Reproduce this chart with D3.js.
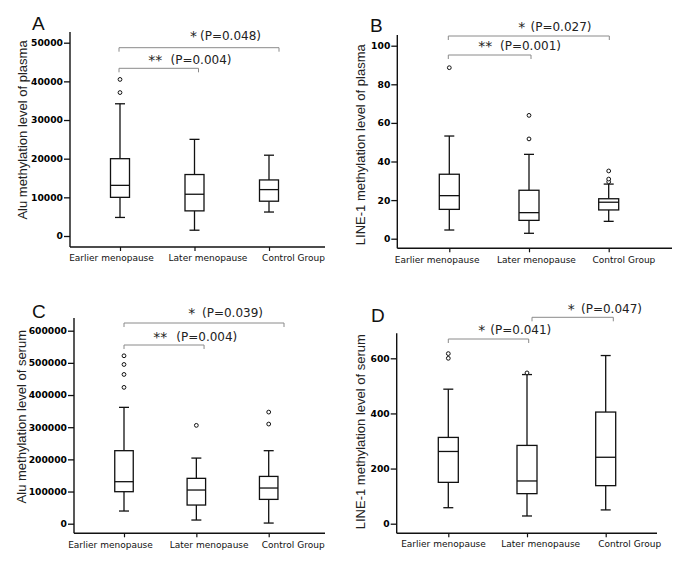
<!DOCTYPE html>
<html>
<head>
<meta charset="utf-8">
<script src="https://cdn.jsdelivr.net/npm/d3@7"></script>
<style>
  html, body { margin: 0; padding: 0; background: #fff; }
  svg { display: block; }
</style>
</head>
<body>
<svg id="chart" width="683" height="577"></svg>
<script>
// ---------------- DATA ----------------
const categories = ["Earlier menopause", "Later menopause", "Control Group"];

// five-number summaries: [lower whisker, Q1, median, Q3, upper whisker]
const aluPlasmaBoxes = [[4800, 10000, 13100, 20000, 34200], [1500, 6500, 10800, 15900, 25000], [6200, 9000, 12000, 14500, 20900]];
const aluPlasmaOutliers = [[37100, 40500], [], []];
const aluPlasmaTicks = [0, 10000, 20000, 30000, 40000, 50000];

const line1PlasmaBoxes = [[4.5, 15.2, 22.3, 33.4, 53.2], [2.8, 9.5, 13.5, 25.1, 43.7], [9.0, 14.9, 18.9, 20.7, 28.3]];
const line1PlasmaOutliers = [[88.6], [51.7, 63.9], [29.5, 30.9, 35.1]];
const line1PlasmaTicks = [0, 20, 40, 60, 80, 100];

const aluSerumBoxes = [[39400, 99500, 130600, 227000, 361700], [11400, 58000, 104700, 141000, 204000], [2000, 75600, 110900, 147000, 227000]];
const aluSerumOutliers = [[423800, 464000, 495000, 522000], [305700], [309800, 347000]];
const aluSerumTicks = [0, 100000, 200000, 300000, 400000, 500000, 600000];

const line1SerumBoxes = [[58, 150, 262, 313, 488], [28, 109, 155, 284, 541], [50, 138, 241, 405, 610]];
const line1SerumOutliers = [[600, 617], [547], []];
const line1SerumTicks = [0, 200, 400, 600];

const panelLetters = ["A", "B", "C", "D"];
const yTitles = ["Alu methylation level of plasma", "LINE-1 methylation level of plasma",
                 "Alu methylation level of serum", "LINE-1 methylation level of serum"];

// significance comparisons: [from category, to category, stars, p-value text]
const aluPlasmaSig = [[0, 2, "*", "(P=0.048)"], [0, 1, "**", "(P=0.004)"]];
const line1PlasmaSig = [[0, 2, "*", "(P=0.027)"], [0, 1, "**", "(P=0.001)"]];
const aluSerumSig = [[0, 2, "*", "(P=0.039)"], [0, 1, "**", "(P=0.004)"]];
const line1SerumSig = [[0, 1, "*", "(P=0.041)"], [1, 2, "*", "(P=0.047)"]];

// ---------------- LAYOUT ----------------
const panels = [
  { boxes: aluPlasmaBoxes, outliers: aluPlasmaOutliers, ticks: aluPlasmaTicks, sig: aluPlasmaSig,
    letter: panelLetters[0], title: yTitles[0], max: 50000,
    yRange: [236, 42.7], axisTop: 32, axisY: 247, axisX: 70, axisEnd: 325, pts: [120, 269],
    labDx: [-9, 13, 24], labY: 261, letterPos: [32, 30], titlePos: [22.7, 130], boxW: 19,
    brackets: [
      { y: 47.7, x0off: -1, x1off: 10, starX: 190, parenX: 200, base: 40.3 },
      { y: 68.3, x0off: -1, x1off: 4, starX: 148.3, parenX: 170.5, base: 64 }
    ] },
  { boxes: line1PlasmaBoxes, outliers: line1PlasmaOutliers, ticks: line1PlasmaTicks, sig: line1PlasmaSig,
    letter: panelLetters[1], title: yTitles[1], max: 100,
    yRange: [238.7, 45.7], axisTop: 35, axisY: 248.3, axisX: 397.3, axisEnd: 672, pts: [449.3, 608.7],
    labDx: [-12.7, 7, 14.7], labY: 263, letterPos: [370, 32], titlePos: [360.7, 144.7], boxW: 20,
    brackets: [
      { y: 36, x0off: -1, x1off: 0.6, starX: 518.3, parenX: 530.5, base: 30.8 },
      { y: 55, x0off: -1, x1off: 2, starX: 478.3, parenX: 500, base: 50.2 }
    ] },
  { boxes: aluSerumBoxes, outliers: aluSerumOutliers, ticks: aluSerumTicks, sig: aluSerumSig,
    letter: panelLetters[2], title: yTitles[2], max: 600000,
    yRange: [523.7, 330.7], axisTop: 318, axisY: 533.3, axisX: 74, axisEnd: 325, pts: [124, 268.7],
    labDx: [-14, 12.3, 24], labY: 548, letterPos: [32, 318], titlePos: [21.7, 416.7], boxW: 18.5,
    brackets: [
      { y: 323, x0off: 0, x1off: 15.3, starX: 188.3, parenX: 202, base: 316.8 },
      { y: 345, x0off: 0, x1off: 7.7, starX: 153.3, parenX: 176.3, base: 340.8 }
    ] },
  { boxes: line1SerumBoxes, outliers: line1SerumOutliers, ticks: line1SerumTicks, sig: line1SerumSig,
    letter: panelLetters[3], title: yTitles[3], max: 600,
    yRange: [523.7, 358.3], axisTop: 333.3, axisY: 533.3, axisX: 396.7, axisEnd: 657, pts: [448.3, 605.7],
    labDx: [-5.3, 13.2, 23.5], labY: 547, letterPos: [371, 322], titlePos: [360.7, 431.7], boxW: 20,
    brackets: [
      { y: 339, x0off: 0, x1off: 1.7, starX: 478.3, parenX: 490.3, base: 333.5 },
      { y: 317.3, x0off: 5, x1off: 7.6, starX: 567.7, parenX: 581, base: 312.5 }
    ] }
];

const svg = d3.select("#chart");
const BLACK = "#111";
const GRAY = "#8a8a8a";

panels.forEach(p => {
  const g = svg.append("g");
  const x = d3.scalePoint().domain(categories).range(p.pts);
  const y = d3.scaleLinear().domain([0, p.max]).range(p.yRange);

  // y axis
  const yAxis = d3.axisLeft(y).tickValues(p.ticks).tickSize(6).tickPadding(1).tickFormat(d3.format("d"));
  const ya = g.append("g").attr("transform", `translate(${p.axisX},0)`).call(yAxis);
  ya.select(".domain").remove();
  ya.selectAll(".tick line").attr("stroke", BLACK).attr("stroke-width", 1.3);
  ya.selectAll(".tick text").attr("font-family", "DejaVu Sans").attr("font-weight", "bold")
    .attr("font-size", 9.2).attr("fill", "#000");
  g.append("line").attr("x1", p.axisX).attr("x2", p.axisX).attr("y1", p.axisTop).attr("y2", p.axisY)
    .attr("stroke", BLACK).attr("stroke-width", 1.4);

  // x axis
  const xAxis = d3.axisBottom(x).tickSize(4).tickPadding(0);
  const xa = g.append("g").attr("transform", `translate(0,${p.axisY})`).call(xAxis);
  xa.select(".domain").remove();
  xa.selectAll(".tick line").attr("stroke", BLACK).attr("stroke-width", 1.2);
  xa.selectAll(".tick text")
    .attr("font-family", "DejaVu Sans").attr("font-size", 9).attr("fill", BLACK)
    .attr("dy", null)
    .attr("y", p.labY - p.axisY)
    .attr("x", (d, i) => p.labDx[i]);
  g.append("line").attr("x1", p.axisX).attr("x2", p.axisEnd).attr("y1", p.axisY).attr("y2", p.axisY)
    .attr("stroke", BLACK).attr("stroke-width", 1.4);

  // boxes
  categories.forEach((c, i) => {
    const [lo, q1, med, q3, hi] = p.boxes[i];
    const cx = x(c);
    const bw = p.boxW, cw = 10;
    const bg = g.append("g").attr("stroke", BLACK).attr("stroke-width", 1.3).attr("fill", "none");
    bg.append("line").attr("x1", cx).attr("x2", cx).attr("y1", y(hi)).attr("y2", y(q3));
    bg.append("line").attr("x1", cx).attr("x2", cx).attr("y1", y(q1)).attr("y2", y(lo));
    bg.append("line").attr("x1", cx - cw / 2).attr("x2", cx + cw / 2).attr("y1", y(hi)).attr("y2", y(hi));
    bg.append("line").attr("x1", cx - cw / 2).attr("x2", cx + cw / 2).attr("y1", y(lo)).attr("y2", y(lo));
    bg.append("rect").attr("x", cx - bw / 2).attr("width", bw).attr("y", y(q3)).attr("height", y(q1) - y(q3))
      .attr("fill", "#fff");
    bg.append("line").attr("x1", cx - bw / 2).attr("x2", cx + bw / 2).attr("y1", y(med)).attr("y2", y(med));
    p.outliers[i].forEach(v => {
      g.append("circle").attr("cx", cx).attr("cy", y(v)).attr("r", 1.9)
        .attr("fill", "#fff").attr("stroke", BLACK).attr("stroke-width", 1);
    });
  });

  // significance brackets
  p.sig.forEach((s, k) => {
    const b = p.brackets[k];
    const x0 = x(categories[s[0]]) + b.x0off;
    const x1 = x(categories[s[1]]) + b.x1off;
    g.append("path")
      .attr("d", `M${x0},${b.y + 4}V${b.y}H${x1}V${b.y + 4}`)
      .attr("fill", "none").attr("stroke", GRAY).attr("stroke-width", 1);
    const t = g.append("text").attr("font-family", "DejaVu Sans").attr("font-size", 12)
      .attr("fill", "#222").attr("y", b.base);
    t.append("tspan").attr("x", b.starX).attr("font-size", 14).attr("dy", 1).text(s[2] + " ");
    t.append("tspan").attr("x", b.parenX).attr("dy", -1).text(s[3]);
  });

  // panel letter
  g.append("text").attr("x", p.letterPos[0]).attr("y", p.letterPos[1])
    .attr("font-family", "Liberation Sans").attr("font-size", 19).attr("fill", BLACK).text(p.letter);

  // y title
  g.append("text")
    .attr("transform", `translate(${p.titlePos[0]},${p.titlePos[1]}) rotate(-90)`)
    .attr("text-anchor", "middle").attr("dy", "0.35em")
    .attr("font-family", "Liberation Sans").attr("font-size", 13).attr("fill", "#222")
    .text(p.title);
});
</script>
</body>
</html>
